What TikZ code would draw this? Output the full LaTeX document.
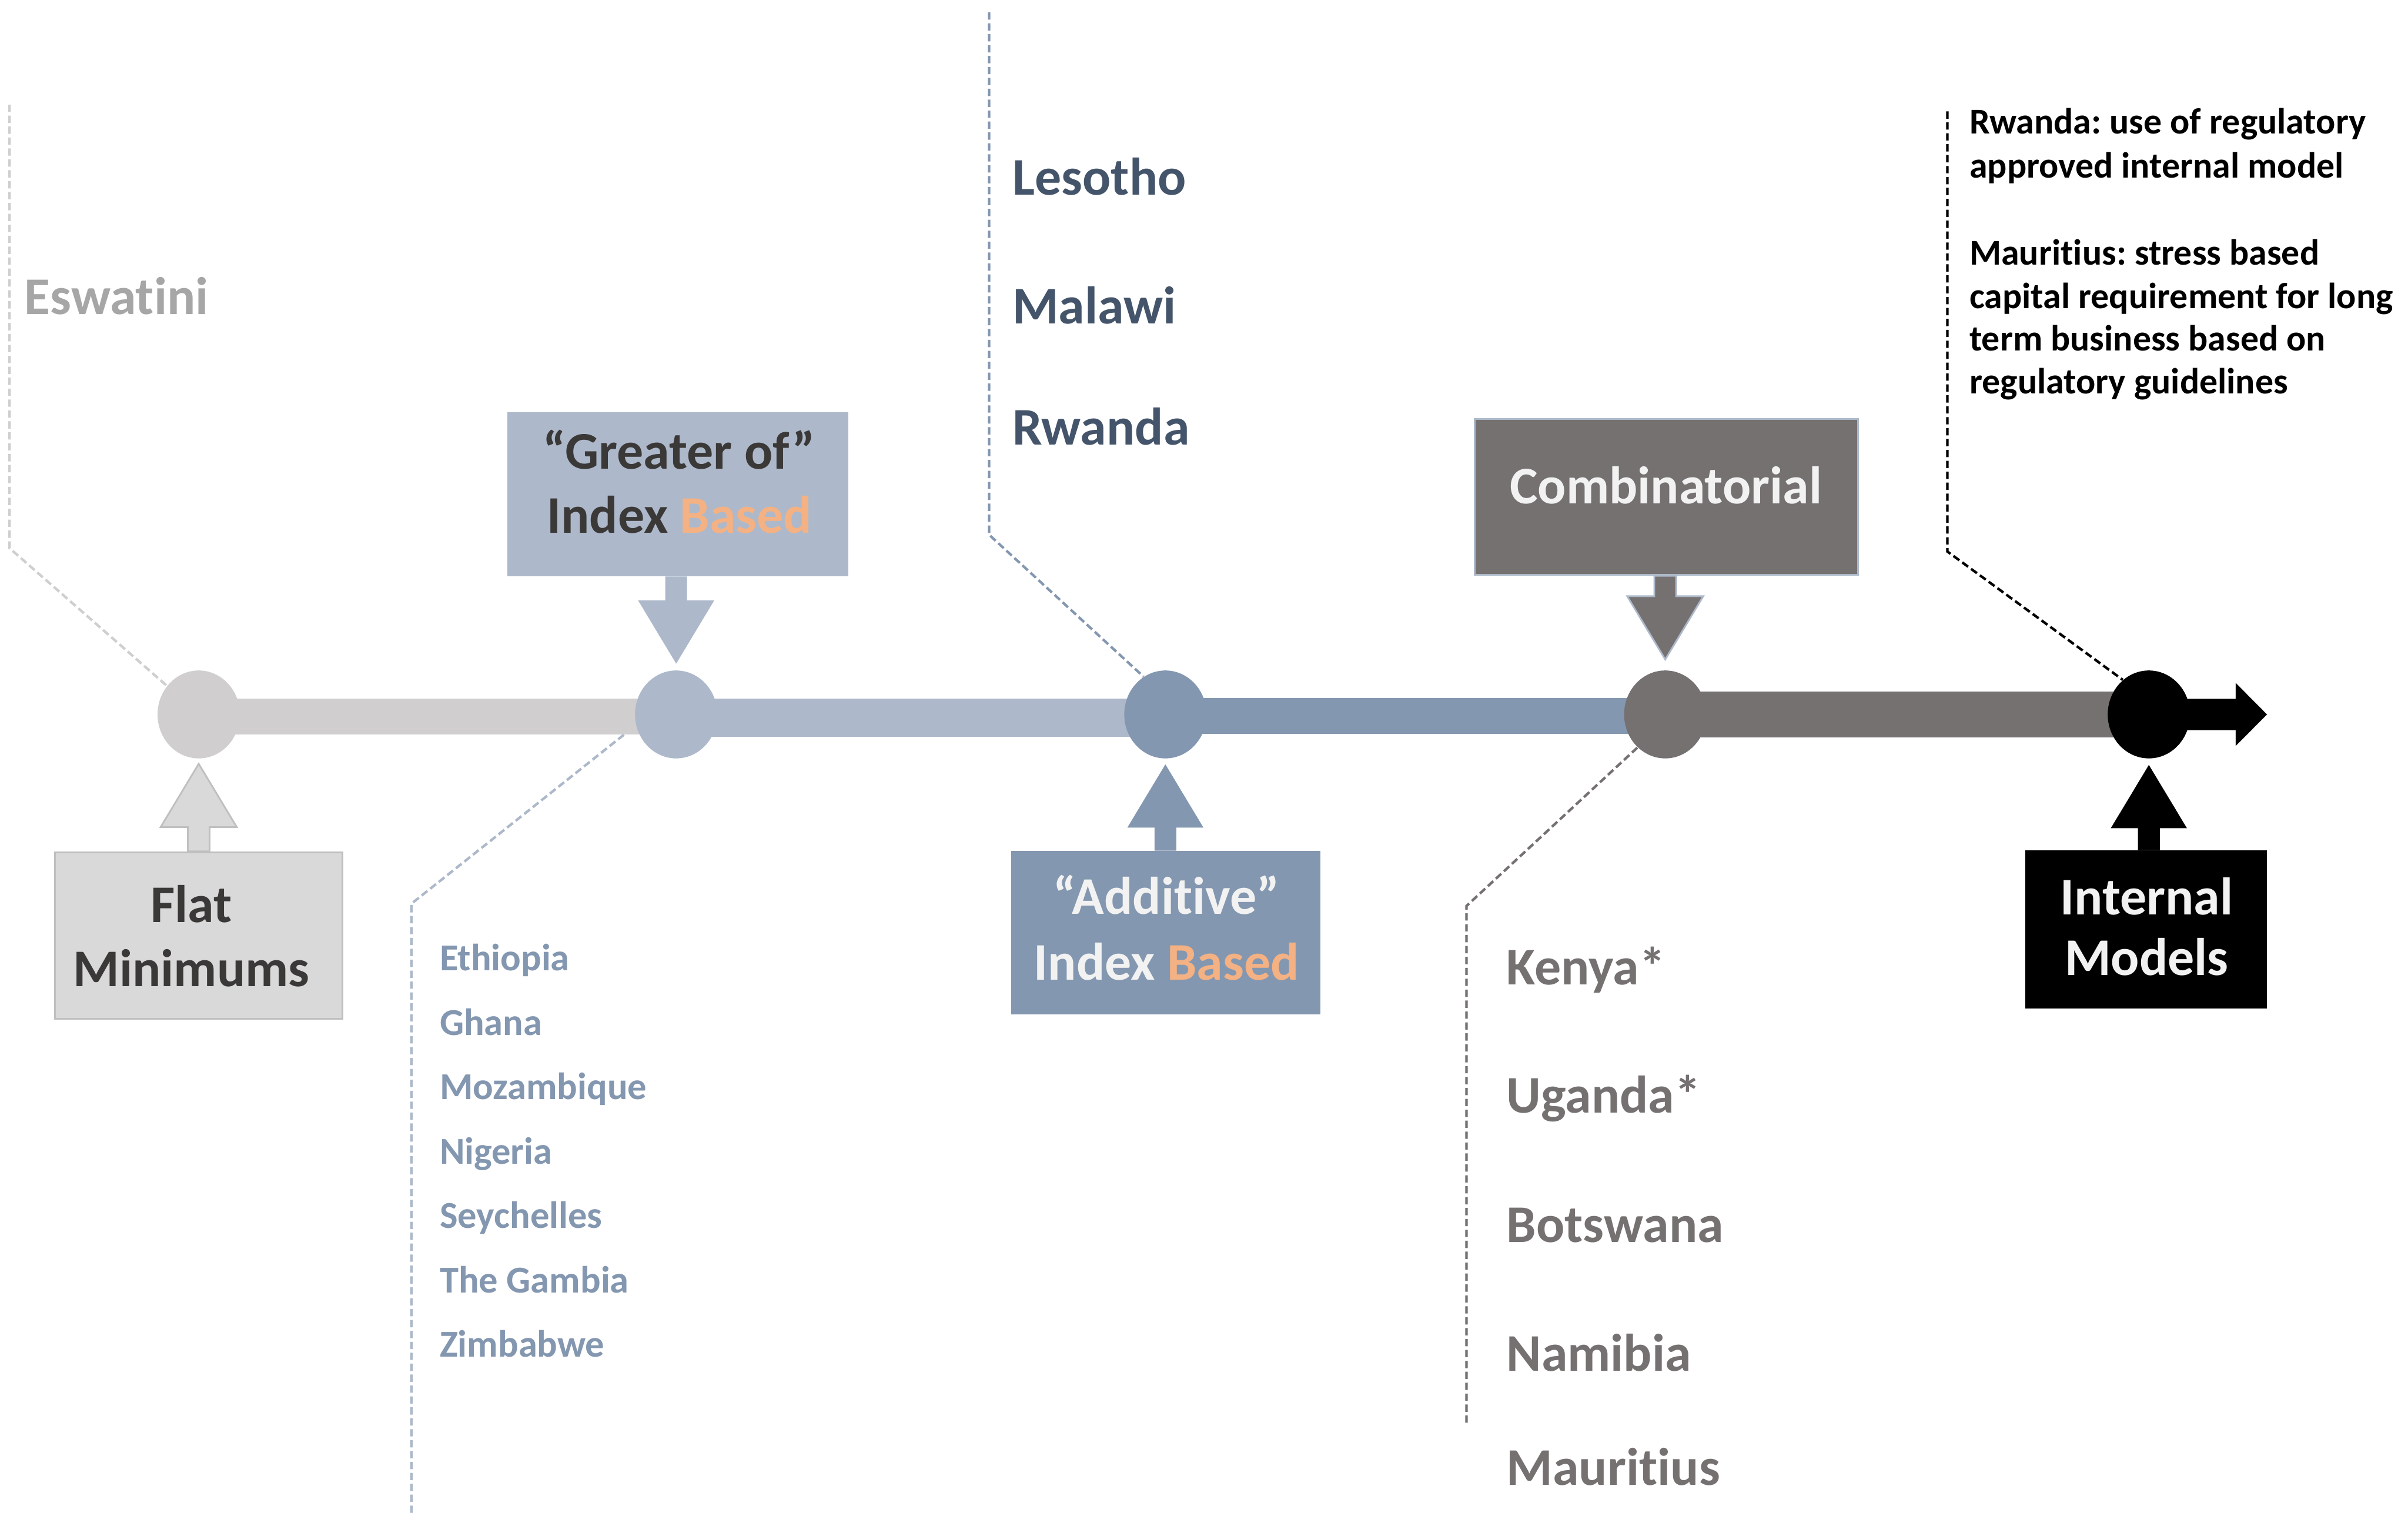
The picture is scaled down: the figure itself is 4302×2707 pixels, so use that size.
\documentclass[tikz,border=0pt]{standalone}
\usepackage{fontspec}
\setmainfont{Carlito}[Ligatures=NoCommon]
\frenchspacing
\usetikzlibrary{shapes.geometric,calc}
\pgfdeclarelayer{background}
\pgfsetlayers{background,main}

\definecolor{tlgray}{HTML}{D0CECE}
\definecolor{tllblue}{HTML}{ADB9CA}
\definecolor{tlblue}{HTML}{8497B0}
\definecolor{tldark}{HTML}{767171}
\definecolor{boxgray}{HTML}{D9D9D9}
\definecolor{boxedge}{HTML}{BFBFBF}
\definecolor{txtdark}{HTML}{3B3838}
\definecolor{txtlight}{HTML}{F2F2F2}
\definecolor{accent}{HTML}{F4B183}
\definecolor{navy}{HTML}{44546A}
\definecolor{eswgray}{HTML}{A6A6A6}

% block arrow from the top of a box up to a milestone: box, milestone, style, gap
\newcommand\arrowup[4]{%
  \path[#3] let \p1=(#1.north), \p2=(#2.south) in
    ({\x2-1.95mm},\y1) -- ({\x2-1.95mm},{\y2-#4-11.3mm}) -- ({\x2-6.8mm},{\y2-#4-11.3mm})
    -- (\x2,{\y2-#4}) -- ({\x2+6.8mm},{\y2-#4-11.3mm}) -- ({\x2+1.95mm},{\y2-#4-11.3mm})
    -- ({\x2+1.95mm},\y1) -- cycle;}
% block arrow from the bottom of a box down to a milestone
\newcommand\arrowdown[4]{%
  \path[#3] let \p1=(#1.south), \p2=(#2.north) in
    ({\x2-1.95mm},\y1) -- ({\x2-1.95mm},{\y2+#4+11.3mm}) -- ({\x2-6.8mm},{\y2+#4+11.3mm})
    -- (\x2,{\y2+#4}) -- ({\x2+6.8mm},{\y2+#4+11.3mm}) -- ({\x2+1.95mm},{\y2+#4+11.3mm})
    -- ({\x2+1.95mm},\y1) -- cycle;}

\tikzset{
  milestone/.style={ellipse, inner sep=0pt, minimum width=14.7mm, minimum height=15.7mm},
  stagebox/.style={rectangle, inner sep=0pt},
  bigtext/.style={font=\fontsize{26.9}{32}\selectfont\bfseries, inner sep=0pt, anchor=base},
  bigleft/.style={bigtext, anchor=base west},
  smalllist/.style={font=\fontsize{19.3}{23}\selectfont\bfseries, inner sep=0pt, anchor=base west},
  notetext/.style={font=\fontsize{18.5}{22}\selectfont\bfseries, inner sep=0pt, anchor=base west},
  leader/.style={line width=0.45mm, dash pattern=on 1.3mm off 0.65mm},
}

\begin{document}
\begin{tikzpicture}[x=0.1mm, y=-0.1mm]
\useasboundingbox (0,0) rectangle (4302,2707);
\begin{pgfonlayer}{background}
  \fill[white] (0,0) rectangle (4302,2707);
\end{pgfonlayer}

% milestones on the timeline
\node[milestone, fill=tlgray]  (c1) at (355,1276) {};
\node[milestone, fill=tllblue] (c2) at (1208,1276) {};
\node[milestone, fill=tlblue]  (c3) at (2082,1276) {};
\node[milestone, fill=tldark]  (c4) at (2975,1276) {};
\node[milestone, fill=black]   (c5) at (3839,1276) {};
\coordinate (endtip) at (4050,1276);

% leader line bends and ends
\coordinate (eswtop) at (17,187);
\coordinate (eswbend) at (17,979);
\coordinate (grbot) at (735,2702);
\coordinate (grbend) at (735,1614);
\coordinate (adtop) at (1767,22);
\coordinate (adbend) at (1767,955);
\coordinate (cobot) at (2620,2541);
\coordinate (cobend) at (2620,1618);
\coordinate (imtop) at (3479,199);
\coordinate (imbend) at (3479,985);

\begin{pgfonlayer}{background}
  \draw[leader, tlgray]  (eswtop) -- (eswbend) -- (c1.138);
  \draw[leader, tllblue] (grbot) -- (grbend) -- (c2.195);
  \draw[leader, tlblue]  (adtop) -- (adbend) -- (c3.120);
  \draw[leader, tldark]  (cobot) -- (cobend) -- (c4.230);
  \draw[leader, black]   (imtop) -- (imbend) -- (c5.127);

  \draw[tlgray,  line width=6.4mm] ($(c1.center)+(0,4)$) -- ($(c2.center)+(0,4)$);
  \draw[tllblue, line width=6.8mm] ($(c2.center)+(0,6)$) -- ($(c3.center)+(0,6)$);
  \draw[tlblue,  line width=6.4mm] ($(c3.center)+(0,3)$) -- ($(c4.center)+(0,3)$);
  \draw[tldark,  line width=8.2mm] (c4.center) -- (c5.center);

  \fill[black] let \p1=(c5.center), \p2=(endtip) in
    (\x1,{\y1+2.8mm}) -- ({\x2-5.6mm},{\y1+2.8mm}) -- ({\x2-5.6mm},{\y1+5.65mm})
    -- (\x2,\y2) -- ({\x2-5.6mm},{\y1-5.65mm}) -- ({\x2-5.6mm},{\y1-2.8mm})
    -- (\x1,{\y1-2.8mm}) -- cycle;
\end{pgfonlayer}

% stage boxes
\node[stagebox, fill=boxgray, draw=boxedge, line width=0.3mm,
      minimum width=51.4mm, minimum height=29.8mm] (flat) at (355,1671) {};
\node[stagebox, fill=tllblue, minimum width=61mm, minimum height=29.3mm] (greater) at (1211,882.5) {};
\node[stagebox, fill=tlblue, minimum width=55.3mm, minimum height=29.2mm] (additive) at (2082.5,1666) {};
\node[stagebox, fill=tldark, draw=tllblue, line width=0.3mm,
      minimum width=68.4mm, minimum height=27.9mm] (combi) at (2977,887.5) {};
\node[stagebox, fill=black, minimum width=43.2mm, minimum height=28.2mm] (internal) at (3834,1660) {};

% block arrows from the boxes to the milestones
\arrowup{flat}{c1}{fill=boxgray, draw=boxedge, line width=0.3mm}{0.9mm}
\arrowdown{greater}{c2}{fill=tllblue}{1.15mm}
\arrowup{additive}{c3}{fill=tlblue}{1mm}
\arrowdown{combi}{c4}{fill=tldark, draw=tllblue, line width=0.3mm}{1.9mm}
\arrowup{internal}{c5}{fill=black}{1.1mm}

% box labels
\node[bigtext, text=txtdark] (flat1) at (342,1647) {Flat};
\node[bigtext, text=txtdark] (flat2) at (342,1762) {Minimums};
\node[bigtext, text=txtdark] (gr1) at (1213,838) {“Greater of”};
\node[bigtext, text=txtdark] (gr2) at (1214,952) {Index \textcolor{accent}{Based}};
\node[bigtext, text=txtlight] (ad1) at (2084,1633) {“Additive”};
\node[bigtext, text=txtlight] (ad2) at (2084,1750) {Index \textcolor{accent}{Based}};
\node[bigtext, text=txtlight] (co1) at (2976,900) {Combinatorial};
\node[bigtext, text=txtlight] (im1) at (3835,1634) {Internal};
\node[bigtext, text=txtlight] (im2) at (3835,1742) {Models};

% countries
\node[bigleft, text=eswgray] (eswatini) at (43,561) {Eswatini};
\node[bigleft, text=navy] (lesotho) at (1808,348) {Lesotho};
\node[bigleft, text=navy] (malawi) at (1808,578) {Malawi};
\node[bigleft, text=navy] (rwanda) at (1808,795) {Rwanda};

\foreach \n/\y in {Ethiopia/1733, Ghana/1849, Mozambique/1963, Nigeria/2079,
                   Seychelles/2194, The Gambia/2309, Zimbabwe/2423}
  \node[smalllist, text=tlblue] (gl\y) at (785,\y) {\n};

\foreach \n/\y in {Kenya*/1759, Uganda*/1988, Botswana/2219, Namibia/2449, Mauritius/2653}
  \node[bigleft, text=tldark] (cl\y) at (2691,\y) {\n};

% internal model notes
\foreach \t/\y in {Rwanda: use of regulatory/239, approved internal model/318,
                   Mauritius: stress based/473, capital requirement for long/551,
                   term business based on/627, regulatory guidelines/703}
  \node[notetext, text=black] (nt\y) at (3518,\y) {\t};
\end{tikzpicture}
\end{document}
